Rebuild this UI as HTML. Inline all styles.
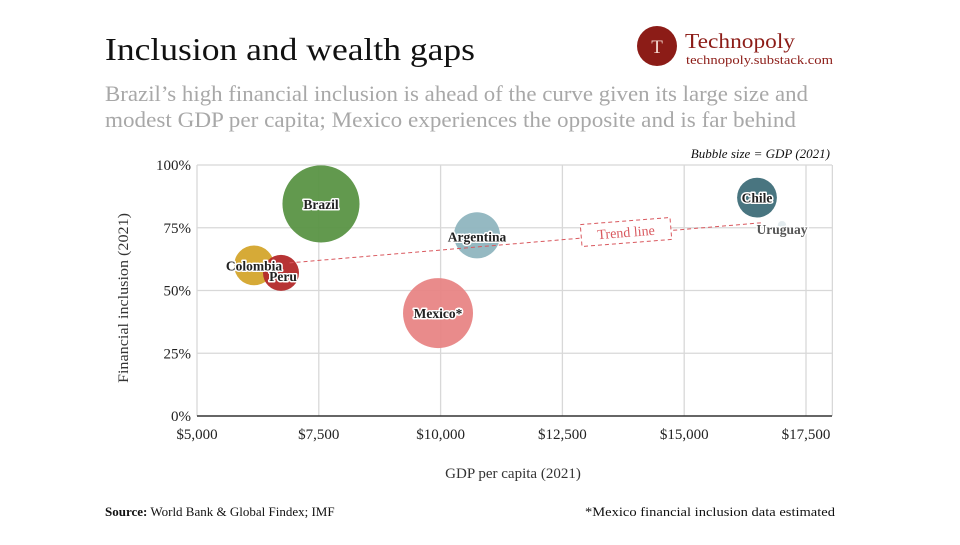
<!DOCTYPE html>
<html><head><meta charset="utf-8"><style>
body{margin:0;background:#fff;width:960px;height:540px;overflow:hidden;font-family:"Liberation Serif",serif}
</style></head><body>
<svg width="960" height="540">
<text x="105" y="60" font-size="32" fill="#111" textLength="370" lengthAdjust="spacingAndGlyphs">Inclusion and wealth gaps</text>
<text x="105" y="101" font-size="22" fill="#a8a8a8" textLength="703" lengthAdjust="spacingAndGlyphs">Brazil’s high financial inclusion is ahead of the curve given its large size and</text>
<text x="105" y="127" font-size="22" fill="#a8a8a8" textLength="691" lengthAdjust="spacingAndGlyphs">modest GDP per capita; Mexico experiences the opposite and is far behind</text>
<g>
<circle cx="657" cy="46" r="20" fill="#8c1c17"/>
<text x="657" y="53" font-size="19" fill="#f3d9d0" text-anchor="middle">T</text>
<text x="685" y="48" font-size="21" fill="#8c1c17" textLength="110" lengthAdjust="spacingAndGlyphs">Technopoly</text>
<text x="686" y="64" font-size="13" fill="#8c1c17" textLength="147" lengthAdjust="spacingAndGlyphs">technopoly.substack.com</text>
</g>
<text x="830" y="158" font-size="13" font-style="italic" fill="#111" text-anchor="end">Bubble size = GDP (2021)</text>
<g id="plot"></g>
<text x="513" y="478" font-size="15" fill="#333" text-anchor="middle">GDP per capita (2021)</text>
<text transform="translate(128,298) rotate(-90)" font-size="15" fill="#333" text-anchor="middle" textLength="170" lengthAdjust="spacingAndGlyphs">Financial inclusion (2021)</text>
<text x="105" y="516" font-size="13" fill="#111"><tspan font-weight="bold">Source:</tspan> World Bank &amp; Global Findex; IMF</text>
<text x="835" y="516" font-size="13" fill="#111" text-anchor="end" textLength="250" lengthAdjust="spacingAndGlyphs">*Mexico financial inclusion data estimated</text>
</svg>
<script>
const countries=["Brazil","Mexico*","Argentina","Colombia","Chile","Peru","Uruguay"];
const gdpPerCapita=[7545,9947,10747,6170,16494,6724,17007];
const inclusion=[84.5,41,72,60,87,57,76];
const gdp=[1.65,1.36,0.59,0.44,0.44,0.36,0.02];
const colors=["#5a9444","#e88585","#8fb5bf","#d4a52c","#3f6e79","#b3292a","#e3ebee"];
const xTicks=[5000,7500,10000,12500,15000,17500];
const xTickLabels=["$5,000","$7,500","$10,000","$12,500","$15,000","$17,500"];
const yTicks=[0,25,50,75,100];
const yTickLabels=["0%","25%","50%","75%","100%"];
const trendX=[6900,16600];
const trendY=[61,77];
const X=v=>197+(v-5000)/2500*121.8;
const Y=v=>416-v/100*251;
const R=g=>30*Math.sqrt(g);
const ns="http://www.w3.org/2000/svg";
const g=document.getElementById('plot');
function mk(t,a,p){const e=document.createElementNS(ns,t);for(const k in a)e.setAttribute(k,a[k]);(p||g).appendChild(e);return e;}
xTicks.forEach((v,i)=>{
 const l=mk('line',{x1:X(v),x2:X(v),y1:Y(100),y2:Y(0),stroke:'#d8d8d8','stroke-width':1.3});
 
 
 const t=mk('text',{x:X(v),y:439,'font-size':15,fill:'#222','text-anchor':'middle'});t.textContent=xTickLabels[i];
 
 
});
const rl=mk('line',{x1:X(18000)+2,x2:X(18000)+2,y1:Y(100),y2:Y(0),stroke:'#d8d8d8','stroke-width':1.3});
yTicks.forEach((v,i)=>{
 const l=mk('line',{x1:197,x2:832,y1:Y(v),y2:Y(v),stroke:v===0?'#333':'#d8d8d8','stroke-width':v===0?1.6:1.3});
 
 
 const t=mk('text',{x:191,y:Y(v)+5,'font-size':15,fill:'#222','text-anchor':'end'});t.textContent=yTickLabels[i];
 
 
});
const order=[6,0,1,2,3,5,4];
order.forEach(i=>{
 const c=mk('circle',{cx:X(gdpPerCapita[i]),cy:Y(inclusion[i]),r:Math.max(R(gdp[i]),4),fill:colors[i],opacity:0.95});
 
 
});
const tl=mk('line',{x1:X(trendX[0]),y1:Y(trendY[0]),x2:X(trendX[1]),y2:Y(trendY[1]),stroke:'#d9585e','stroke-width':1,'stroke-dasharray':'4,3'});


const tb=mk('g',{transform:'translate(626,232) rotate(-4.5)'});


mk('rect',{x:-45,y:-11,width:90,height:22,fill:'#fff',stroke:'#d9585e','stroke-dasharray':'4,3'},tb);
const tt=mk('text',{x:0,y:5,'font-size':14,fill:'#d9585e','text-anchor':'middle'},tb);tt.textContent='Trend line';
const lo=[[0,5],[0,5],[0,6],[0,5],[0,5],[2,8],[0,9]];
[3,5,0,1,2,4,6].forEach(i=>{
 const t=mk('text',{x:X(gdpPerCapita[i])+lo[i][0],y:Y(inclusion[i])+lo[i][1],'font-size':13.5,'font-weight':'bold',fill:'#222','text-anchor':'middle',stroke:'#fff','stroke-width':3,'paint-order':'stroke','stroke-linejoin':'round'});
 if(i===6)t.setAttribute('fill','#555');
 t.textContent=countries[i];
 
 
});
</script>
</body></html>
